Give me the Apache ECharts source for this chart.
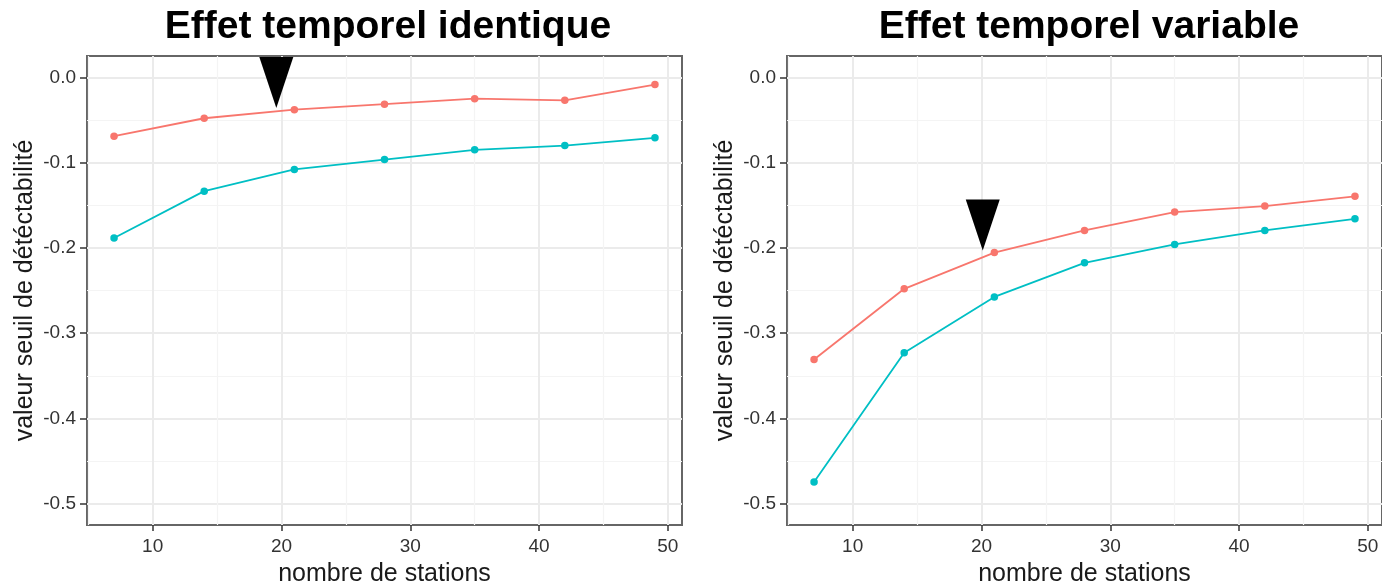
<!DOCTYPE html>
<html>
<head>
<meta charset="utf-8">
<script src="https://cdn.jsdelivr.net/npm/echarts@6/dist/echarts.min.js"></script>
<style>
  html, body { margin: 0; padding: 0; background: #ffffff; }
  #chart { width: 1382px; height: 586px; }
</style>
</head>
<body>
<div id="chart"></div>
<script>
// Number of stations (x) shared by both panels
const stations = [7, 14, 21, 28, 35, 42, 49];

// Panel 1: identical temporal effect
const identiqueRouge = [-0.069, -0.048, -0.038, -0.0315, -0.025, -0.027, -0.0085];
const identiqueBleu  = [-0.1885, -0.1335, -0.108, -0.0965, -0.085, -0.080, -0.071];

// Panel 2: variable temporal effect
const variableRouge = [-0.331, -0.248, -0.2055, -0.1795, -0.158, -0.151, -0.1395];
const variableBleu  = [-0.4745, -0.323, -0.2575, -0.2175, -0.196, -0.1795, -0.166];

// Arrow tips [x, y]
const arrowIdentique = [19.6, -0.036];
const arrowVariable  = [20.1, -0.203];

// Axis ticks
const xTicks = [10, 20, 30, 40, 50];
const xMinorTicks = [5, 15, 25, 35, 45];
const yTicks = [-0.5, -0.4, -0.3, -0.2, -0.1, 0.0];
const yMinorTicks = [-0.45, -0.35, -0.25, -0.15, -0.05];

const titles = ['Effet temporel identique', 'Effet temporel variable'];
const xName = 'nombre de stations';
const yName = 'valeur seuil de détéctabilité';

const FONT = '"Liberation Sans", Arial, sans-serif';
const RED = '#F8766D';
const CYAN = '#00BFC4';
const X_MIN = 4.9, X_MAX = 51.1, Y_MIN = -0.525, Y_MAX = 0.025;

const grids = [
  { left: 87, top: 56, width: 595, height: 469 },
  { left: 787, top: 56, width: 595, height: 469 }
];

function pairs(ys) { return stations.map((x, i) => [x, ys[i]]); }

const xAxes = [], yAxes = [];
grids.forEach((g, gi) => {
  xAxes.push({
    gridIndex: gi, type: 'value', min: X_MIN, max: X_MAX, position: 'bottom',
    axisLine: { show: false, onZero: false },
    axisTick: { show: true, customValues: xTicks, length: 6, lineStyle: { color: '#333333', width: 1.5 } },
    axisLabel: { customValues: xTicks, fontFamily: FONT, fontSize: 19, color: '#333333', margin: 12 },
    splitLine: { show: true, lineStyle: { color: '#EBEBEB', width: 2 } },
    name: xName, nameLocation: 'middle', nameGap: 37,
    nameTextStyle: { fontFamily: FONT, fontSize: 25, color: '#1a1a1a' }
  });
  xAxes.push({
    gridIndex: gi, type: 'value', min: X_MIN, max: X_MAX, position: 'bottom',
    axisLine: { show: false, onZero: false },
    axisTick: { show: false, customValues: xMinorTicks },
    axisLabel: { show: false, customValues: xMinorTicks },
    splitLine: { show: true, lineStyle: { color: '#F4F4F4', width: 1.2 } }
  });
  yAxes.push({
    gridIndex: gi, type: 'value', min: Y_MIN, max: Y_MAX, position: 'left',
    axisLine: { show: false, onZero: false },
    axisTick: { show: true, customValues: yTicks, length: 7, lineStyle: { color: '#333333', width: 1.5 } },
    axisLabel: { customValues: yTicks, fontFamily: FONT, fontSize: 19, color: '#333333', margin: 11,
                 padding: [6, 0, 0, 0],
                 formatter: v => Number(v).toFixed(1) },
    splitLine: { show: true, lineStyle: { color: '#EBEBEB', width: 2 } },
    name: yName, nameLocation: 'middle', nameGap: 49,
    nameTextStyle: { fontFamily: FONT, fontSize: 25, color: '#1a1a1a' }
  });
  yAxes.push({
    gridIndex: gi, type: 'value', min: Y_MIN, max: Y_MAX, position: 'left',
    axisLine: { show: false, onZero: false },
    axisTick: { show: false, customValues: yMinorTicks },
    axisLabel: { show: false, customValues: yMinorTicks },
    splitLine: { show: true, lineStyle: { color: '#F4F4F4', width: 1.2 } }
  });
});

const arrowPath = 'path://M0,0 L2,0 L1,3 Z';
function arrowMark(tip) {
  return {
    silent: true,
    symbol: arrowPath, symbolSize: [34, 51], symbolKeepAspect: false,
    symbolOffset: [0, -25.5],
    itemStyle: { color: '#000000' },
    label: { show: false },
    data: [{ coord: tip }]
  };
}

function lineSeries(gi, ys, color, mark) {
  const s = {
    type: 'line', xAxisIndex: gi * 2, yAxisIndex: gi * 2,
    data: pairs(ys), symbol: 'circle', symbolSize: 7.5, showSymbol: true,
    itemStyle: { color: color }, lineStyle: { color: color, width: 1.8 },
    z: 3
  };
  if (mark) s.markPoint = mark;
  return s;
}

const option = {
  animation: false,
  backgroundColor: '#ffffff',
  title: [
    { text: titles[0], left: 383, textAlign: 'center', top: 3,
      textStyle: { fontFamily: FONT, fontSize: 39, fontWeight: 'bold', color: '#000000' } },
    { text: titles[1], left: 1084, textAlign: 'center', top: 3,
      textStyle: { fontFamily: FONT, fontSize: 39, fontWeight: 'bold', color: '#000000' } }
  ],
  grid: grids.map(g => Object.assign({ show: true, borderColor: '#666666', borderWidth: 2,
                                       backgroundColor: 'transparent', containLabel: false,
                                       outerBoundsMode: 'none' }, g)),
  xAxis: xAxes,
  yAxis: yAxes,
  series: [
    lineSeries(0, identiqueRouge, RED, arrowMark(arrowIdentique)),
    lineSeries(0, identiqueBleu, CYAN),
    lineSeries(1, variableRouge, RED, arrowMark(arrowVariable)),
    lineSeries(1, variableBleu, CYAN)
  ]
};

const chart = echarts.init(document.getElementById('chart'), null, { renderer: 'canvas' });
chart.setOption(option);
</script>
</body>
</html>
